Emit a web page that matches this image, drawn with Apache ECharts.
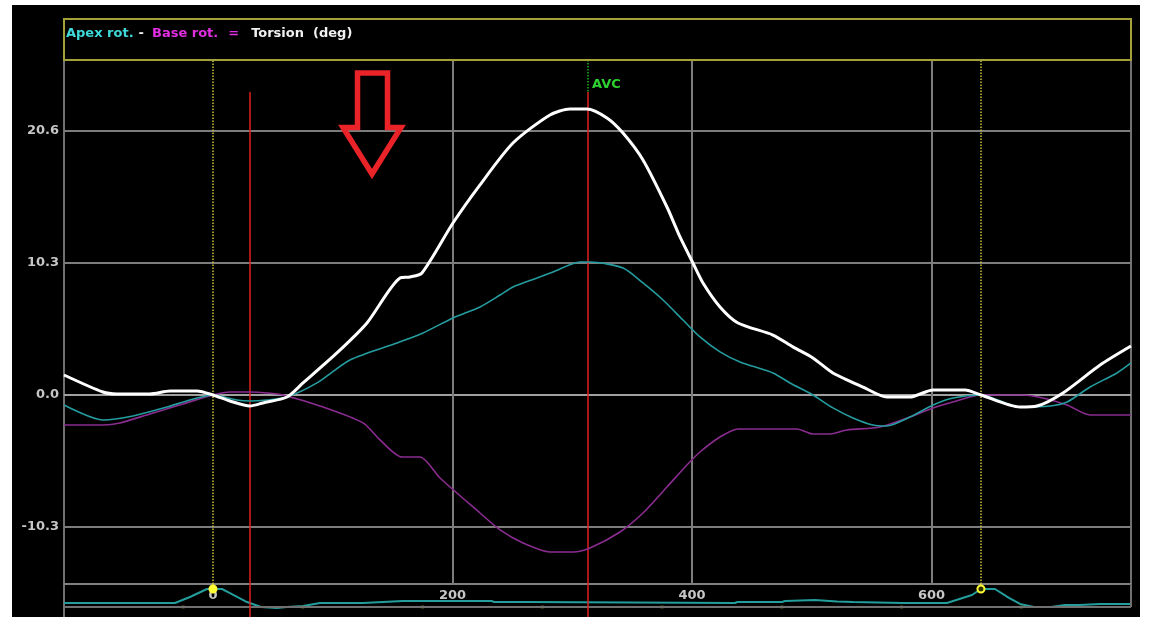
<!DOCTYPE html>
<html>
<head>
<meta charset="utf-8">
<script src="https://cdn.jsdelivr.net/npm/echarts@6/dist/echarts.min.js"></script>
<style>
html,body{margin:0;padding:0;background:#fff;width:1149px;height:617px;overflow:hidden;}
#bg{position:absolute;left:12px;top:5px;width:1128px;height:612px;background:#000;}
#chart{position:absolute;left:0;top:0;width:1149px;height:617px;}
</style>
</head>
<body>
<div id="bg"></div>
<div id="chart"></div>
<script>
// ---- data (time in ms, rotation in degrees) ----
const torsionMs  = [-124.4,-91.9,-80.2,-52.6,-35.9,-13.4,0,14.2,30.9,41.8,61.8,75.2,103.5,128.6,156.2,164.5,174.5,200.4,223.0,250.5,281.4,298.1,312.3,329.0,342.4,359.1,379.1,390.0,400.8,409.2,423.4,438.4,467.6,484.3,501.0,517.7,542.8,562.8,582.0,601.3,628.0,641.3,673.9,688.1,709.8,740.8,766.6];
const torsionDeg = [1.56,0.23,0.08,0.08,0.31,0.31,0,-0.47,-0.86,-0.62,-0.16,0.94,3.28,5.62,9.13,9.21,9.52,13.42,16.4,19.66,21.85,22.32,22.32,21.62,20.44,18.34,14.67,12.33,10.30,8.74,6.87,5.62,4.68,3.75,2.89,1.72,0.62,-0.16,-0.16,0.39,0.39,0,-0.94,-0.86,0.16,2.34,3.82];

const apexMs  = [-124.4,-91.9,-66.8,-38.4,-19.2,0,20.0,30.9,45.1,61.8,86.8,114.4,153.7,175.4,200.4,223.0,239.7,250.5,270.6,283.9,306.5,314.8,342.4,359.1,375.8,392.5,406.7,423.4,440.1,467.6,481.8,501.0,517.7,534.4,551.1,562.8,582.0,601.3,617.9,641.3,673.9,699.0,713.2,732.4,754.9,766.6];
const apexDeg = [-0.78,-1.95,-1.64,-0.94,-0.39,0,-0.39,-0.47,-0.39,-0.16,0.94,2.73,4.06,4.84,6.01,6.87,7.80,8.43,9.13,9.60,10.38,10.38,9.91,8.74,7.41,5.85,4.53,3.36,2.58,1.72,0.94,0,-1.01,-1.79,-2.34,-2.42,-1.72,-0.78,-0.23,0,-0.94,-0.86,-0.55,0.62,1.72,2.50];

const baseMs  = [-124.4,-91.9,-77.7,-52.6,-25.1,0,14.2,30.9,45.1,58.5,91.9,125.3,139.5,157.8,172.9,189.6,223.0,239.7,258.9,281.4,300.6,314.8,339.9,359.1,379.1,395.8,406.7,423.4,438.4,487.7,501.0,515.2,529.4,557.0,582.0,601.3,617.9,641.3,676.4,693.1,713.2,732.4,766.6];
const baseDeg = [-2.34,-2.34,-2.18,-1.48,-0.70,0,0.23,0.23,0.16,0,-0.94,-2.18,-3.51,-4.84,-4.84,-6.48,-9.21,-10.53,-11.55,-12.25,-12.25,-11.94,-10.69,-9.21,-7.18,-5.46,-4.45,-3.28,-2.65,-2.65,-3.04,-3.04,-2.73,-2.50,-1.72,-1.01,-0.55,0,0,-0.23,-0.78,-1.56,-1.56];

const ecgMs = [-124.4,-31.7,-19.2,-5.0,7.5,14.2,28.4,40.1,53.4,61.8,75.2,89.4,125.3,126.9,158.6,233.0,234.7,262.3,263.9,436.0,437.7,475.2,477.7,502.7,521.1,534.4,576.2,612.9,633.8,641.3,653.0,664.7,673.9,685.6,699.8,711.5,723.2,740.8,766.6];
const ecgMv = [0,0,0.43,1.0,1.0,0.71,0.07,-0.29,-0.36,-0.29,-0.21,0,0,0.07,0.14,0.14,0.07,0.07,0,0,0.07,0.07,0.14,0.21,0.11,0.07,0,0,0.57,1.0,1.0,0.36,-0.07,-0.29,-0.29,-0.14,-0.14,-0.07,-0.07];
const ecgDotMs = [-25,75,175,275,375,475,575,675];

// events (ms)
const qrsMs = [0, 641.3];          // yellow dotted markers
const redMs = [30.9, 313.2];       // red cursors
const avcMs = 313.2;               // aortic valve closure
const cursorTopDeg = 23.64;

// axis ticks
const yTicks = [-10.3, 0, 10.3, 20.6];
const xTicks = [0, 200, 400, 600];
const xMin = -124.4, xMax = 766.6;
const yMin = -14.75, yMax = 26.14;
const ecgMin = -1.0, ecgMax = 1.357, ecgFloor = -0.286;

const zip = (a, b) => a.map((v, i) => [v, b[i]]);

const GRID = '#7c7c7c';
const FONT = '"DejaVu Sans", Verdana, sans-serif';
const LBL = '#c6c6c6';

const chart = echarts.init(document.getElementById('chart'), null, {renderer: 'canvas'});
chart.setOption({
  animation: false,
  backgroundColor: 'transparent',
  title: {
    left: 61, top: 22,
    text: '{a|Apex rot.}{w1|-}{b|Base rot.}{m|=}{w|Torsion  (deg)}',
    textStyle: {
      fontFamily: FONT, fontSize: 13, fontWeight: 'bold',
      rich: {
        a: {color: '#3fd9d9', fontFamily: FONT, fontSize: 13, fontWeight: 'bold'},
        w1: {color: '#f0f0f0', fontFamily: FONT, fontSize: 13, fontWeight: 'bold', padding: [0, 8, 0, 5]},
        b: {color: '#e22ee2', fontFamily: FONT, fontSize: 13, fontWeight: 'bold'},
        m: {color: '#e22ee2', fontFamily: FONT, fontSize: 13, fontWeight: 'bold', padding: [0, 12, 0, 10]},
        w: {color: '#f0f0f0', fontFamily: FONT, fontSize: 13, fontWeight: 'bold'}
      }
    }
  },
  grid: [
    {left: 64, top: 60, width: 1067, height: 524, show: true, borderColor: '#707070', borderWidth: 2, backgroundColor: 'transparent'},
    {left: 64, top: 584, width: 1067, height: 33, show: false}
  ],
  xAxis: [
    {type: 'value', gridIndex: 0, min: xMin, max: xMax, axisLine: {show: false}, axisTick: {show: false}, axisLabel: {show: false}, splitLine: {show: false}},
    {type: 'value', gridIndex: 1, min: xMin, max: xMax, position: 'top',
     axisLine: {show: true, onZero: false, lineStyle: {color: '#808080', width: 2}},
     axisTick: {show: false}, splitLine: {show: false},
     axisLabel: {show: true, inside: true, margin: 5, customValues: xTicks, color: LBL, fontFamily: FONT, fontSize: 13, fontWeight: 'bold', formatter: v => String(v)}}
  ],
  yAxis: [
    {type: 'value', gridIndex: 0, min: yMin, max: yMax,
     axisLine: {show: false}, axisTick: {show: false}, splitLine: {show: false},
     axisLabel: {show: true, customValues: yTicks, margin: 5, color: LBL, fontFamily: FONT, fontSize: 13, fontWeight: 'bold', formatter: v => v.toFixed(1)}},
    {type: 'value', gridIndex: 1, min: ecgMin, max: ecgMax,
     axisLine: {show: true, onZero: false, lineStyle: {color: '#707070', width: 2}},
     axisTick: {show: false}, axisLabel: {show: false}, splitLine: {show: false}}
  ],
  series: [
    { // grid lines (main)
      type: 'line', xAxisIndex: 0, yAxisIndex: 0, data: [], z: 1, silent: true,
      markLine: {
        silent: true, symbol: 'none', animation: false, label: {show: false},
        lineStyle: {color: GRID, width: 2, type: 'solid'},
        data: [
          ...yTicks.map(v => ({yAxis: v, lineStyle: {color: v === 0 ? '#a0a0a0' : GRID, width: 2, type: 'solid'}})),
          ...xTicks.filter(v => v > 0).map(v => ({xAxis: v}))
        ]
      }
    },
    { // strip frame lines + ECG
      type: 'line', name: 'ECG', xAxisIndex: 1, yAxisIndex: 1, data: zip(ecgMs, ecgMv),
      showSymbol: false, symbol: 'none', smooth: false, z: 3,
      lineStyle: {color: '#249d9d', width: 2},
      markLine: {
        silent: true, symbol: 'none', animation: false, label: {show: false},
        data: [
          {yAxis: ecgFloor, lineStyle: {color: '#707070', width: 2, type: 'solid'}},
          [{coord: [xMax, ecgMax], lineStyle: {color: '#707070', width: 2, type: 'solid'}}, {coord: [xMax, ecgFloor]}],
          ...redMs.map(v => ({xAxis: v, lineStyle: {color: '#e0201e', width: 1.5, type: 'solid'}})),
          ...qrsMs.map(v => [{coord: [v, ecgMax], lineStyle: {color: '#c9c63a', width: 1.5, type: 'dotted'}}, {coord: [v, 1.0]}])
        ]
      },
      markPoint: {
        silent: true, animation: false,
        data: qrsMs.map((v, i) => ({coord: [v, 1.0], symbol: 'circle', symbolSize: 7,
          itemStyle: {color: i === 0 ? '#ffff33' : '#303000', borderColor: '#ffff33', borderWidth: 2}, label: {show: false}}))
      }
    },
    {
      type: 'scatter', xAxisIndex: 1, yAxisIndex: 1, data: ecgDotMs.map(v => [v, ecgFloor]),
      symbol: 'rect', symbolSize: 3, itemStyle: {color: '#6d6a22'}, z: 4, silent: true
    },
    { // cursors in main grid
      type: 'line', xAxisIndex: 0, yAxisIndex: 0, data: [], z: 2, silent: true,
      markLine: {
        silent: true, symbol: 'none', animation: false, label: {show: false},
        data: [
          ...qrsMs.map(v => ({xAxis: v, lineStyle: {color: '#c9c63a', width: 1.5, type: 'dotted'}})),
          ...redMs.map(v => [{coord: [v, cursorTopDeg], lineStyle: {color: '#e0201e', width: 1.5, type: 'solid'}}, {coord: [v, yMin]}]),
          [{coord: [avcMs, yMax], lineStyle: {color: '#22b822', width: 1.5, type: 'dotted'}}, {coord: [avcMs, cursorTopDeg]}]
        ]
      },
      markPoint: {
        silent: true, animation: false,
        data: [{coord: [avcMs, 24.19], symbol: 'circle', symbolSize: 0,
          label: {show: true, formatter: 'AVC', position: 'right', distance: 4, color: '#2ed22e', fontFamily: FONT, fontSize: 13, fontWeight: 'bold'}}]
      }
    },
    {
      type: 'line', name: 'Base rot.', xAxisIndex: 0, yAxisIndex: 0, data: zip(baseMs, baseDeg),
      showSymbol: false, symbol: 'none', smooth: 0.25, z: 5,
      lineStyle: {color: '#8a2c90', width: 1.6}
    },
    {
      type: 'line', name: 'Apex rot.', xAxisIndex: 0, yAxisIndex: 0, data: zip(apexMs, apexDeg),
      showSymbol: false, symbol: 'none', smooth: 0.25, z: 6,
      lineStyle: {color: '#259c9f', width: 1.6}
    },
    {
      type: 'line', name: 'Torsion', xAxisIndex: 0, yAxisIndex: 0, data: zip(torsionMs, torsionDeg),
      showSymbol: false, symbol: 'none', smooth: 0.25, z: 7,
      lineStyle: {color: '#ffffff', width: 3}
    }
  ],
  graphic: [
    {type: 'rect', z: 100, silent: true, shape: {x: 64, y: 19, width: 1067, height: 41},
     style: {fill: 'none', stroke: '#a4a03a', lineWidth: 2}},
    {type: 'polygon', z: 100, silent: true,
     shape: {points: [[357.5,73],[387.5,73],[387.5,127.5],[401,127.5],[372,174],[343,127.5],[357.5,127.5]]},
     style: {fill: 'none', stroke: '#ea2328', lineWidth: 5.5, lineJoin: 'miter'}}
  ]
});
</script>
</body>
</html>
